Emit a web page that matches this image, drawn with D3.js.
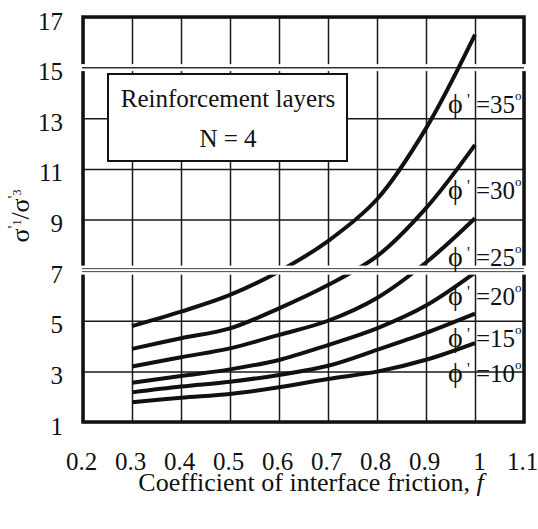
<!DOCTYPE html>
<html>
<head>
<meta charset="utf-8">
<script src="https://cdn.jsdelivr.net/npm/d3@7"></script>
<style>
	body { margin: 0; background: #fff; }
	text { font-family: "Liberation Serif", "Times New Roman", serif; fill: #111; }
</style>
</head>
<body>
<div id="chart"></div>
<script>
	// coefficient of interface friction, f
	var friction = [0.3, 0.4, 0.5, 0.6, 0.7, 0.8, 0.9, 1.0];

	// sigma'1 / sigma'3 for each friction angle
	var phi10 = [1.78, 1.96, 2.11, 2.37, 2.70, 2.99, 3.46, 4.12];
	var phi15 = [2.17, 2.40, 2.59, 2.86, 3.22, 3.85, 4.52, 5.28];
	var phi20 = [2.55, 2.82, 3.08, 3.45, 4.04, 4.70, 5.60, 6.90];
	var phi25 = [3.19, 3.56, 3.91, 4.44, 5.00, 5.90, 7.30, 9.05];
	var phi30 = [3.89, 4.31, 4.70, 5.49, 6.41, 7.55, 9.45, 11.95];
	var phi35 = [4.79, 5.36, 6.02, 6.95, 8.15, 9.80, 12.6, 16.3];

	var phiAngles = [10, 15, 20, 25, 30, 35];
	var xTicks = [0.2, 0.3, 0.4, 0.5, 0.6, 0.7, 0.8, 0.9, 1.0, 1.1];
	var yTicks = [1, 3, 5, 7, 9, 11, 13, 15, 17];

	var series = [phi10, phi15, phi20, phi25, phi30, phi35];

	var w = 538;
	var h = 529;
	var plotL = 83, plotR = 524, plotT = 17, plotB = 422;

	var x = d3.scaleLinear().domain([0.2, 1.1]).range([plotL, plotR]);
	var y = d3.scaleLinear().domain([1, 17]).range([plotB, plotT]);

	var svg = d3.select("#chart").append("svg")
		.attr("width", w)
		.attr("height", h);

	// grid
	svg.append("g")
		.attr("transform", "translate(0," + plotB + ")")
		.call(d3.axisBottom(x).tickValues(xTicks).tickSize(-(plotB - plotT)).tickFormat(""))
		.call(function(g) { g.select(".domain").remove(); })
		.selectAll("line")
			.attr("stroke", "#1a1a1a")
			.attr("stroke-width", 1.5);

	svg.append("g")
		.attr("transform", "translate(" + plotL + ",0)")
		.call(d3.axisLeft(y).tickValues(yTicks).tickSize(-(plotR - plotL)).tickFormat(""))
		.call(function(g) { g.select(".domain").remove(); })
		.selectAll("line")
			.attr("stroke", "#1a1a1a")
			.attr("stroke-width", 1.5);

	// tick labels
	var xAxis = svg.append("g")
		.attr("transform", "translate(0," + plotB + ")")
		.call(d3.axisBottom(x).tickValues(xTicks).tickSize(0).tickFormat(d3.format("~g")));
	xAxis.select(".domain").remove();
	xAxis.attr("font-family", null).attr("font-size", 25);
	xAxis.selectAll("text")
		.attr("x", function(d) { return d === 1 ? 4 : -2; })
		.attr("y", 48).attr("dy", 0).attr("fill", "#111");

	var yAxis = svg.append("g")
		.attr("transform", "translate(" + plotL + ",0)")
		.call(d3.axisLeft(y).tickValues(yTicks).tickSize(0));
	yAxis.select(".domain").remove();
	yAxis.attr("font-family", null).attr("font-size", 25);
	yAxis.selectAll("text").attr("x", -20).attr("dy", 12).attr("fill", "#111");

	// plot frame
	svg.append("rect")
		.attr("x", plotL)
		.attr("y", plotT)
		.attr("width", plotR - plotL)
		.attr("height", plotB - plotT)
		.attr("fill", "none")
		.attr("stroke", "#111")
		.attr("stroke-width", 3.5);

	// joint at 15 (scan seam)
	svg.append("rect")
		.attr("x", plotL - 4).attr("y", y(15) - 3.5)
		.attr("width", plotR - plotL + 8).attr("height", 7)
		.attr("fill", "#fff");
	svg.append("line")
		.attr("x1", plotL - 1).attr("x2", plotR)
		.attr("y1", y(15)).attr("y2", y(15))
		.attr("stroke", "#333").attr("stroke-width", 1.5);

	// legend box
	svg.append("rect")
		.attr("x", 108).attr("y", 74)
		.attr("width", 239).attr("height", 87)
		.attr("fill", "#fff")
		.attr("stroke", "#111")
		.attr("stroke-width", 2);
	svg.append("text")
		.attr("x", 228).attr("y", 107)
		.attr("text-anchor", "middle")
		.attr("font-size", 25)
		.text("Reinforcement layers");
	svg.append("text")
		.attr("x", 228).attr("y", 147)
		.attr("text-anchor", "middle")
		.attr("font-size", 25)
		.text("N = 4");

	// curves
	var line = d3.line()
		.x(function(d, i) { return x(friction[i]); })
		.y(function(d) { return y(d); })
		.curve(d3.curveCatmullRom.alpha(0.5));

	svg.selectAll("path.curve")
		.data(series)
		.enter()
		.append("path")
			.attr("class", "curve")
			.attr("d", line)
			.attr("fill", "none")
			.attr("stroke", "#111")
			.attr("stroke-width", 4);

	// joint at 7 (scan seam, cuts through the curves)
	svg.append("rect")
		.attr("x", plotL - 4).attr("y", y(7) - 4.5)
		.attr("width", plotR - plotL + 8).attr("height", 9)
		.attr("fill", "#fff");
	[-1.5, 1.5].forEach(function(o) {
		svg.append("line")
			.attr("x1", plotL - 1).attr("x2", plotR)
			.attr("y1", y(7) + o).attr("y2", y(7) + o)
			.attr("stroke", "#444").attr("stroke-width", 1);
	});

	// phi' labels
	var labelLevels = [2.58, 3.96, 5.62, 7.17, 9.81, 13.2];

	var labels = svg.selectAll("text.phi")
		.data(phiAngles)
		.enter()
		.append("text")
			.attr("class", "phi")
			.attr("x", x(1) - 27)
			.attr("y", function(d, i) { return y(labelLevels[i]); })
			.attr("font-size", 25);
	labels.append("tspan").attr("font-size", 28).text("\u03D5");
	labels.append("tspan").attr("x", x(1) - 8).attr("dy", -8).attr("font-size", 16).text("'");
	labels.append("tspan").attr("x", x(1) + 1).attr("dy", 8).text(function(d) { return "=" + d; });
	labels.append("tspan").attr("dy", -13).attr("font-size", 13).text("o");

	// axis titles
	svg.append("text")
		.attr("x", 311).attr("y", 491)
		.attr("text-anchor", "middle")
		.attr("font-size", 26)
		.text("Coefficient of interface friction, ")
		.append("tspan").attr("font-style", "italic").text("f");

	var yTitle = svg.append("text")
		.attr("transform", "translate(29,216) rotate(-90)")
		.attr("text-anchor", "middle")
		.attr("font-size", 26);
	yTitle.append("tspan").text("σ");
	yTitle.append("tspan").attr("dy", -10).attr("font-size", 16).text("'");
	yTitle.append("tspan").attr("dy", 2).attr("font-size", 12).text("1");
	yTitle.append("tspan").attr("dy", 8).text("/σ");
	yTitle.append("tspan").attr("dy", -10).attr("font-size", 16).text("'");
	yTitle.append("tspan").attr("dy", 2).attr("font-size", 12).text("3");
</script>
</body>
</html>
